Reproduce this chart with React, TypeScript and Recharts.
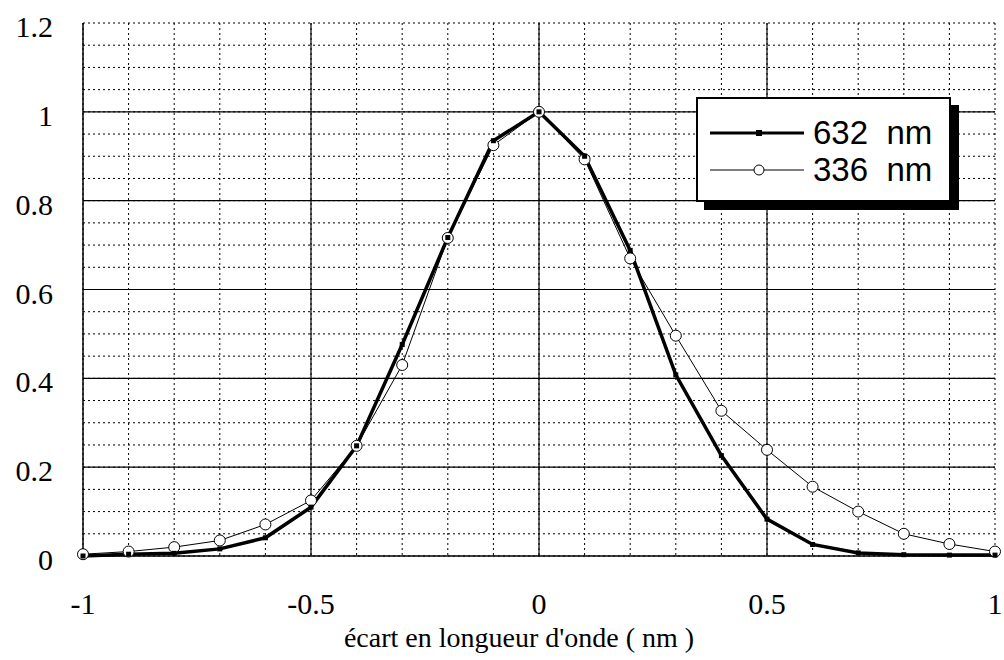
import React from "react";
import {
  LineChart,
  Line,
  XAxis,
  YAxis,
  CartesianGrid,
  Legend,
  Label,
} from "recharts";

// wavelength offset (nm)
const OFFSETS = [
  -1, -0.9, -0.8, -0.7, -0.6, -0.5, -0.4, -0.3, -0.2, -0.1, 0, 0.1, 0.2, 0.3,
  0.4, 0.5, 0.6, 0.7, 0.8, 0.9, 1,
];

const S632 = [
  0, 0.004, 0.006, 0.016, 0.041, 0.11, 0.248, 0.476, 0.717, 0.935, 1.0, 0.9,
  0.688, 0.408, 0.226, 0.083, 0.026, 0.007, 0.003, 0.002, 0.002,
];

const S336 = [
  0.004, 0.01, 0.02, 0.035, 0.071, 0.125, 0.248, 0.43, 0.716, 0.925, 1.0,
  0.893, 0.67, 0.496, 0.327, 0.239, 0.156, 0.1, 0.05, 0.027, 0.01,
];

const X_TICKS = [-1, -0.5, 0, 0.5, 1];
const Y_TICKS = [0, 0.2, 0.4, 0.6, 0.8, 1, 1.2];
const X_MINOR = [
  -1, -0.9, -0.8, -0.7, -0.6, -0.5, -0.4, -0.3, -0.2, -0.1, 0, 0.1, 0.2, 0.3,
  0.4, 0.5, 0.6, 0.7, 0.8, 0.9, 1,
];
const Y_MINOR = [
  0, 0.05, 0.1, 0.15, 0.2, 0.25, 0.3, 0.35, 0.4, 0.45, 0.5, 0.55, 0.6, 0.65,
  0.7, 0.75, 0.8, 0.85, 0.9, 0.95, 1, 1.05, 1.1, 1.15, 1.2,
];
const X_MAJOR = [-0.5, 0, 0.5];
const Y_MAJOR = [0.2, 0.4, 0.6, 0.8, 1];

const SERIES = [
  { key: "s632", label: "632  nm", width: 3.5, marker: "square" },
  { key: "s336", label: "336  nm", width: 1, marker: "circle" },
];

const data = OFFSETS.map((x, i) => ({ x, s632: S632[i], s336: S336[i] }));

const SERIF = "'Times New Roman', 'Liberation Serif', 'DejaVu Serif', serif";
const SANS = "'Liberation Sans', Arial, sans-serif";

function SquareDot(props: any) {
  const { cx, cy } = props;
  if (cx == null || cy == null) return null;
  return <rect x={cx - 2.5} y={cy - 2.5} width={5} height={5} fill="#000" />;
}

function CircleDot(props: any) {
  const { cx, cy } = props;
  if (cx == null || cy == null) return null;
  return <circle cx={cx} cy={cy} r={5.5} fill="#fff" stroke="#000" strokeWidth={1} />;
}

function SerifTick(props: any) {
  const { x, y, payload, textAnchor, dy } = props;
  return (
    <text
      x={x}
      y={y}
      dy={dy}
      textAnchor={textAnchor}
      fill="#000"
      fontFamily={SERIF}
      fontSize={30}
    >
      {String(payload.value)}
    </text>
  );
}

function LegendBox() {
  return (
    <div
      style={{
        position: "relative",
        width: 255,
        height: 105,
        boxSizing: "border-box",
        border: "2px solid #000",
        boxShadow: "8px 8px 0 #000",
        background: "#fff",
      }}
    >
      {SERIES.map((s, i) => (
        <div
          key={s.key}
          style={{
            position: "absolute",
            left: 0,
            top: 14 + i * 37,
            height: 40,
            display: "flex",
            alignItems: "center",
          }}
        >
          <svg width={115} height={40} style={{ display: "block" }}>
            <line x1={12} x2={106} y1={20} y2={20} stroke="#000" strokeWidth={s.width === 1 ? 1 : 3} />
            {s.marker === "square" ? (
              <rect x={58} y={17} width={6} height={6} fill="#000" />
            ) : (
              <circle cx={61} cy={20} r={5} fill="#fff" stroke="#000" strokeWidth={1} />
            )}
          </svg>
          <span
            style={{
              fontFamily: SANS,
              fontSize: 33,
              whiteSpace: "pre",
              color: "#000",
              lineHeight: "40px",
            }}
          >
            {s.label}
          </span>
        </div>
      ))}
    </div>
  );
}

export default function App() {
  return (
    <div
      style={{
        position: "absolute",
        left: 0,
        top: 0,
        background: "#fff",
        fontFamily: SERIF,
      }}
    >
      <LineChart
        width={1004}
        height={660}
        data={data}
        margin={{ top: 23, right: 9, bottom: 0, left: 0 }}
      >
        <CartesianGrid
          stroke="#000"
          strokeDasharray="2 3"
          strokeWidth={1}
          horizontalValues={Y_MINOR}
          verticalValues={X_MINOR}
        />
        <CartesianGrid
          stroke="#000"
          strokeWidth={1.2}
          horizontalValues={Y_MAJOR}
          verticalValues={X_MAJOR}
        />
        <XAxis
          dataKey="x"
          type="number"
          domain={[-1, 1]}
          ticks={X_TICKS}
          tickSize={0}
          tickMargin={37}
          height={104}
          axisLine={{ stroke: "#000", strokeWidth: 1.5 }}
          tick={<SerifTick dy={21} />}
          interval={0}
        >
          <Label
            value="écart en longueur d'onde ( nm )"
            position="insideBottom"
            offset={13}
            dx={-20}
            fontFamily={SERIF}
            fontSize={28}
            fill="#000"
          />
        </XAxis>
        <XAxis
          xAxisId="minorBottom"
          dataKey="x"
          type="number"
          domain={[-1, 1]}
          ticks={X_MINOR}
          mirror
          tick={false}
          tickSize={6}
          axisLine={false}
          tickLine={{ stroke: "#000" }}
          height={0}
        />
        <XAxis
          xAxisId="top"
          orientation="top"
          dataKey="x"
          type="number"
          domain={[-1, 1]}
          ticks={X_MINOR}
          mirror
          tick={false}
          tickSize={6}
          axisLine={{ stroke: "#000", strokeWidth: 1.5 }}
          tickLine={{ stroke: "#000" }}
          height={0}
        />
        <YAxis
          type="number"
          domain={[0, 1.2]}
          ticks={Y_TICKS}
          width={83}
          tickSize={0}
          tickMargin={30}
          axisLine={{ stroke: "#000", strokeWidth: 1.5 }}
          tick={<SerifTick dy={14} />}
          interval={0}
        />
        <YAxis
          yAxisId="minorLeft"
          type="number"
          domain={[0, 1.2]}
          ticks={Y_MINOR}
          mirror
          tick={false}
          tickSize={6}
          axisLine={false}
          tickLine={{ stroke: "#000" }}
          width={0}
        />
        <YAxis
          yAxisId="right"
          orientation="right"
          type="number"
          domain={[0, 1.2]}
          ticks={Y_MINOR}
          mirror
          tick={false}
          tickSize={6}
          axisLine={{ stroke: "#000", strokeWidth: 1.5 }}
          tickLine={{ stroke: "#000" }}
          width={0}
        />
        <Legend
          layout="horizontal"
          verticalAlign="middle"
          align="center"
          wrapperStyle={{ left: 696, top: 97, width: 270, height: 115 }}
          content={() => <LegendBox />}
        />
        <Line
          type="linear"
          dataKey="s336"
          name="336 nm"
          stroke="#000"
          strokeWidth={1}
          dot={<CircleDot />}
          activeDot={false}
          isAnimationActive={false}
        />
        <Line
          type="linear"
          dataKey="s632"
          name="632 nm"
          stroke="#000"
          strokeWidth={3.5}
          dot={<SquareDot />}
          activeDot={false}
          isAnimationActive={false}
        />
      </LineChart>
    </div>
  );
}
